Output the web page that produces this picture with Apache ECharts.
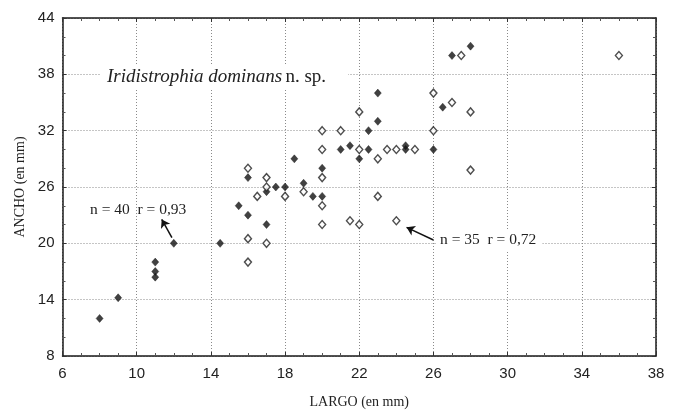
<!DOCTYPE html>
<html>
<head>
<meta charset="utf-8">
<script src="https://cdn.jsdelivr.net/npm/echarts@6/dist/echarts.min.js"></script>
<style>
html,body{margin:0;padding:0;background:#fff;}
#c{width:677px;height:414px;}
</style>
</head>
<body>
<div id="c"></div>
<script>
// Data (LARGO x, ANCHO y, in mm)
const filledLargo = [8, 9, 11, 11, 11, 12, 14.5, 15.5, 16, 17, 16, 17, 17.5, 18, 18.5, 19, 19.5, 20, 20, 21, 21.5, 22.5, 22.5, 22, 23, 23, 24.5, 24.5, 26, 26.5, 27, 28];
const filledAncho = [12, 14.2, 18, 17, 16.4, 20, 20, 24, 23, 22, 27, 25.5, 26, 26, 29, 26.4, 25, 25, 28, 30, 30.4, 32, 30, 29, 33, 36, 30.4, 30, 30, 34.5, 40, 41];
const openLargo = [16, 16, 17, 16, 17, 17, 16.5, 18, 19, 20, 20, 20, 20, 20, 21, 22, 22, 23, 23.5, 24, 25, 23, 21.5, 22, 24, 26, 26, 27, 28, 28, 27.5, 36];
const openAncho = [18, 20.5, 20, 28, 27, 26, 25, 25, 25.5, 32, 30, 27, 24, 22, 32, 34, 30, 29, 30, 30, 30, 25, 22.4, 22, 22.4, 36, 32, 35, 34, 27.8, 40, 40];
const xTicks = [6, 10, 14, 18, 22, 26, 30, 34, 38];
const yTicks = [8, 14, 20, 26, 32, 38, 44];
const xName = 'LARGO (en mm)';
const yName = 'ANCHO (en mm)';
const speciesItalic = 'Iridistrophia dominans';
const speciesSuffix = 'n. sp.';
const labelFilled = 'n = 40  r = 0,93';
const labelOpen = 'n = 35  r = 0,72';
const arrowFilled = [[11.9, 20.6], [11.35, 22.55]];
const arrowOpen = [[26.0, 20.35], [24.55, 21.7]];

const filledData = filledLargo.map((x, i) => [x, filledAncho[i]]);
const openData = openLargo.map((x, i) => [x, openAncho[i]]);

const chart = echarts.init(document.getElementById('c'), null, {renderer: 'canvas'});
const sans = 'Liberation Sans';
const serif = 'Liberation Serif';
const gridLine = {show: true, lineStyle: {color: '#8a8a8a', type: [1, 2], width: 1}};
const axisLine = {show: true, lineStyle: {color: '#1a1a1a', width: 1.5}};

function mainAxisX() {
  return {
    type: 'value', min: xTicks[0], max: xTicks[xTicks.length - 1], interval: xTicks[1] - xTicks[0],
    position: 'bottom',
    axisLine: axisLine,
    axisTick: {show: true, inside: true, length: 4, lineStyle: {color: '#333'}},
    minorTick: {show: true, splitNumber: 4, length: 3, lineStyle: {color: '#555'}},
    splitLine: gridLine,
    axisLabel: {fontFamily: sans, fontSize: 15, color: '#222', margin: 10},
    name: xName, nameLocation: 'middle', nameGap: 39,
    nameTextStyle: {fontFamily: serif, fontSize: 14, color: '#222'}
  };
}
function mainAxisY() {
  return {
    type: 'value', min: yTicks[0], max: yTicks[yTicks.length - 1], interval: yTicks[1] - yTicks[0],
    position: 'left',
    axisLine: axisLine,
    axisTick: {show: true, inside: true, length: 4, lineStyle: {color: '#333'}},
    minorTick: {show: true, splitNumber: 3, length: 3, lineStyle: {color: '#555'}},
    splitLine: gridLine,
    axisLabel: {fontFamily: sans, fontSize: 15, color: '#222', margin: 8},
    name: yName, nameLocation: 'middle', nameGap: 34,
    nameTextStyle: {fontFamily: serif, fontSize: 14, color: '#222'}
  };
}

const option = {
  animation: false,
  backgroundColor: '#fff',
  grid: {left: 62.5, right: 21, top: 18, bottom: 57, containLabel: false},
  xAxis: [
    mainAxisX(),
    {type: 'value', min: xTicks[0], max: xTicks[xTicks.length - 1], interval: xTicks[1] - xTicks[0],
     position: 'top', axisLine: axisLine,
     axisTick: {show: true, inside: true, length: 4, lineStyle: {color: '#333'}},
     minorTick: {show: true, splitNumber: 4, length: 3, lineStyle: {color: '#555'}},
     splitLine: {show: false}, axisLabel: {show: false}}
  ],
  yAxis: [
    mainAxisY(),
    {type: 'value', min: yTicks[0], max: yTicks[yTicks.length - 1], interval: yTicks[1] - yTicks[0],
     position: 'right', axisLine: axisLine,
     axisTick: {show: true, inside: true, length: 4, lineStyle: {color: '#333'}},
     minorTick: {show: true, splitNumber: 3, length: 3, lineStyle: {color: '#555'}},
     splitLine: {show: false}, axisLabel: {show: false}}
  ],
  series: [
    {
      name: 'filled', type: 'scatter', data: filledData,
      symbol: 'diamond', symbolSize: [7, 8],
      itemStyle: {color: '#111', borderColor: '#111', borderWidth: 0.5},
      markLine: {
        silent: true, symbol: ['none', 'arrow'], symbolSize: 8,
        label: {show: false},
        lineStyle: {color: '#111', width: 1.5, type: 'solid'},
        data: [[{coord: arrowFilled[0]}, {coord: arrowFilled[1]}]]
      }
    },
    {
      name: 'open', type: 'scatter', data: openData,
      symbol: 'diamond', symbolSize: [7, 8],
      itemStyle: {color: '#fff', borderColor: '#222', borderWidth: 1.4},
      markLine: {
        silent: true, symbol: ['none', 'arrow'], symbolSize: 8,
        label: {show: false},
        lineStyle: {color: '#111', width: 1.5, type: 'solid'},
        data: [[{coord: arrowOpen[0]}, {coord: arrowOpen[1]}]]
      }
    }
  ],
  graphic: [
    {
      type: 'text', x: 100, y: 77, z: 100,
      style: {
        text: '{i|' + speciesItalic + '} {n|' + speciesSuffix + '}',
        verticalAlign: 'middle',
        backgroundColor: '#fff', padding: [3, 22, 3, 7],
        rich: {
          i: {fontFamily: serif, fontStyle: 'italic', fontSize: 19, fill: '#222', color: '#222'},
          n: {fontFamily: serif, fontSize: 19, fill: '#222', color: '#222'}
        }
      }
    },
    {
      type: 'text', x: 90, y: 210, z: 100,
      style: {text: labelFilled, font: '15.5px "Liberation Serif"', fill: '#222', verticalAlign: 'middle'}
    },
    {
      type: 'text', x: 436, y: 240, z: 100,
      style: {text: labelOpen, font: '15.5px "Liberation Serif"', fill: '#222', verticalAlign: 'middle',
              backgroundColor: '#fff', padding: [2, 6, 2, 4]}
    }
  ]
};
chart.setOption(option);
</script>
</body>
</html>
